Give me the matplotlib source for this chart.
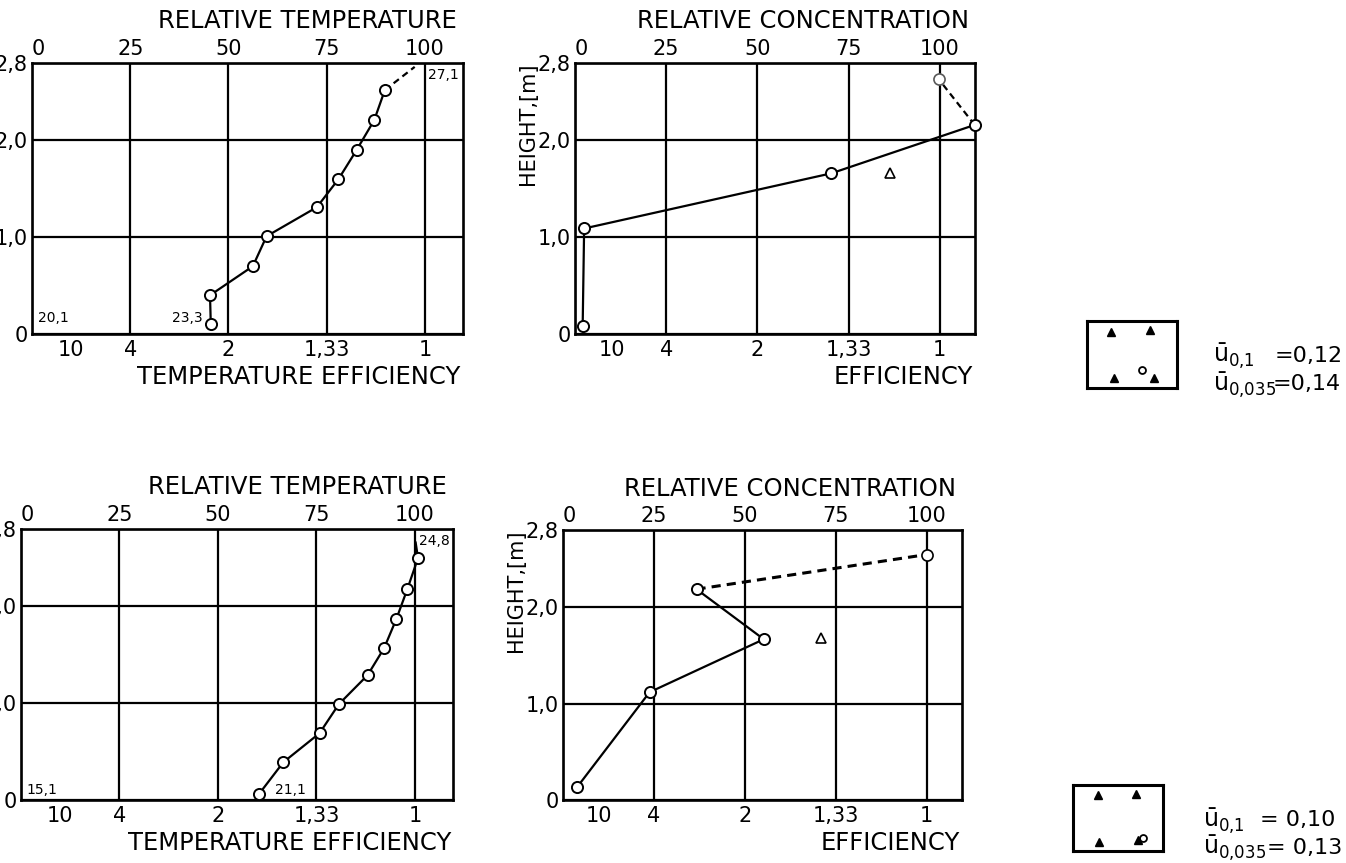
import numpy as np
import matplotlib.pyplot as plt

plt.rcParams['font.family'] = 'DejaVu Sans'
plt.rcParams['mathtext.fontset'] = 'dejavusans'

# scales shared by the four panels
top_ticks = [0, 25, 50, 75, 100]
top_labels = ['0', '25', '50', '75', '100']
eff_ticks = [10, 25, 50, 75, 100]
eff_labels = ['10', '4', '2', '1,33', '1']
h_ticks = [0, 1.0, 2.0, 2.8]
h_labels = ['0', '1,0', '2,0', '2,8']

# upper row: temperature profile
t1_rel = [45.5, 45.3, 56.2, 59.7, 72.5, 78.0, 82.6, 87.1, 89.8]
t1_h = [0.10, 0.40, 0.70, 1.01, 1.31, 1.60, 1.90, 2.21, 2.52]
t1_dash_rel = [89.8, 97.4]
t1_dash_h = [2.52, 2.76]

# upper row: concentration profile
c1_rel = [2.1, 2.5, 70.3, 109.6]
c1_h = [0.08, 1.09, 1.66, 2.16]
c1_dash_rel = [109.6, 99.8]
c1_dash_h = [2.16, 2.63]
c1_tri_rel = [86.5]
c1_tri_h = [1.66]

# lower row: temperature profile
t2_rel = [60.4, 66.6, 75.8, 80.7, 88.0, 92.2, 95.3, 98.1, 100.8]
t2_h = [0.06, 0.39, 0.69, 0.99, 1.29, 1.57, 1.87, 2.18, 2.50]
t2_lead_rel = [100.8, 100.2]
t2_lead_h = [2.50, 2.66]

# lower row: concentration profile
c2_rel = [3.8, 23.8, 55.2, 36.7]
c2_h = [0.13, 1.12, 1.67, 2.19]
c2_dash_rel = [36.7, 100.0]
c2_dash_h = [2.19, 2.55]
c2_tri_rel = [70.8]
c2_tri_h = [1.68]

# temperatures written on the temperature panels
t1_notes = [('20,1', 1.5, 0.16, 'left'), ('23,3', 43.5, 0.16, 'right'), ('27,1', 100.8, 2.68, 'left')]
t2_notes = [('15,1', 1.5, 0.10, 'left'), ('21,1', 64.4, 0.10, 'left'), ('24,8', 101.0, 2.68, 'left')]

# mean velocities beside the sketches
u_rows = [r'$\bar{\mathrm{u}}_{0{,}1}$', r'$\bar{\mathrm{u}}_{0{,}035}$',
          r'$\bar{\mathrm{u}}_{0{,}1}$', r'$\bar{\mathrm{u}}_{0{,}035}$']
u_vals = ['=0,12', '=0,14', '= 0,10', '= 0,13']

FS_T = 17.5
FS = 15
LW = 1.6


def setup(ax, top_title, bottom_title, ylabel=None):
    ax.set_xlim(0, 109.7)
    ax.set_ylim(0, 2.8)
    ax.xaxis.tick_top()
    ax.set_xticks(top_ticks, top_labels)
    ax.set_yticks(h_ticks, h_labels)
    ax.tick_params(length=0, labelsize=FS, pad=3)
    for lab in ax.get_xticklabels():
        if lab.get_text() == '0':
            lab.set_ha('left')
    ax.grid(True, color='black', lw=LW)
    for s in ax.spines.values():
        s.set_linewidth(LW + 0.3)
    sec = ax.secondary_xaxis('bottom')
    sec.set_xticks(eff_ticks, eff_labels)
    sec.tick_params(length=0, labelsize=FS, pad=4)
    sec.spines['bottom'].set_visible(False)
    ax.text(0.985, 1.155, top_title, transform=ax.transAxes, ha='right',
            va='center', fontsize=FS_T)
    ax.text(0.995, -0.160, bottom_title, transform=ax.transAxes, ha='right',
            va='center', fontsize=FS_T)
    if ylabel:
        ax.text(-0.118, 0.775, ylabel, transform=ax.transAxes, rotation=90,
                ha='center', va='center', fontsize=15)


def profile(ax, x, y, **kw):
    ax.plot(x, y, color='black', lw=LW, marker='o', ms=8, mfc='white',
            mec='black', mew=1.4, clip_on=False, zorder=5, **kw)


fig = plt.figure(figsize=(13.46, 8.63), dpi=100)

ax1 = fig.add_axes([0.0238, 0.6130, 0.3202, 0.3140])
ax2 = fig.add_axes([0.4272, 0.6130, 0.2972, 0.3140])
ax3 = fig.add_axes([0.0156, 0.0730, 0.3210, 0.3140])
ax4 = fig.add_axes([0.4183, 0.0730, 0.2964, 0.3123])

setup(ax1, 'RELATIVE TEMPERATURE', 'TEMPERATURE EFFICIENCY')
setup(ax2, 'RELATIVE CONCENTRATION', 'EFFICIENCY', 'HEIGHT,[m]')
setup(ax3, 'RELATIVE TEMPERATURE', 'TEMPERATURE EFFICIENCY')
setup(ax4, 'RELATIVE CONCENTRATION', 'EFFICIENCY', 'HEIGHT,[m]')

profile(ax1, t1_rel, t1_h)
ax1.plot(t1_dash_rel, t1_dash_h, color='black', lw=LW, ls=(0, (3, 2)), zorder=4)
for s, x, y, ha in t1_notes:
    ax1.text(x, y, s, fontsize=10, ha=ha, va='center')

profile(ax2, c1_rel, c1_h)
ax2.plot(c1_dash_rel, c1_dash_h, color='black', lw=LW, ls=(0, (3, 2)), zorder=4)
ax2.plot(c1_dash_rel[1:], c1_dash_h[1:], ls='none', marker='o', ms=8, mfc='white',
         mec='0.35', mew=1.2, zorder=5)
ax2.plot(c1_tri_rel, c1_tri_h, ls='none', marker='^', ms=7, mfc='white',
         mec='black', mew=1.2)

profile(ax3, t2_rel, t2_h)
ax3.plot(t2_lead_rel, t2_lead_h, color='black', lw=LW, zorder=4)
for s, x, y, ha in t2_notes:
    ax3.text(x, y, s, fontsize=10, ha=ha, va='center')

profile(ax4, c2_rel, c2_h)
ax4.plot(c2_dash_rel, c2_dash_h, color='black', lw=LW + 0.6, ls=(0, (3, 2)), zorder=4)
ax4.plot(c2_dash_rel[1:], c2_dash_h[1:], ls='none', marker='o', ms=8, mfc='white',
         mec='black', mew=1.2, zorder=5)
ax4.plot(c2_tri_rel, c2_tri_h, ls='none', marker='^', ms=7, mfc='white',
         mec='black', mew=1.2)

# small plan sketches of the measuring points
sketches = [
    ([0.8076, 0.5504, 0.0669, 0.0776], [0.27, 0.70, 0.30, 0.74], [0.84, 0.86, 0.15, 0.15], (0.61, 0.27)),
    ([0.7972, 0.0139, 0.0669, 0.0765], [0.28, 0.70, 0.29, 0.72], [0.85, 0.86, 0.14, 0.16], (0.78, 0.19)),
]
for rect, tx, ty, circ in sketches:
    sax = fig.add_axes(rect)
    sax.set_xlim(0, 1)
    sax.set_ylim(0, 1)
    sax.set_xticks([])
    sax.set_yticks([])
    for s in sax.spines.values():
        s.set_linewidth(2.2)
    sax.plot(tx, ty, ls='none', marker='^', ms=6, color='black')
    sax.plot([circ[0]], [circ[1]], ls='none', marker='o', ms=5, mfc='white',
             mec='black', mew=1.3)

# figure-fraction positions of the velocity lines
u_x = [0.9012, 0.9012, 0.8937, 0.8937]
u_y = [0.5875, 0.5550, 0.0498, 0.0174]
v_x = [0.9473, 0.9458, 0.9361, 0.9413]
for lab, val, x0, y0, xv in zip(u_rows, u_vals, u_x, u_y, v_x):
    fig.text(x0, y0, lab, fontsize=17, ha='left', va='center')
    fig.text(xv, y0, val, fontsize=16, ha='left', va='center')

fig.savefig('out.png', dpi=100)
